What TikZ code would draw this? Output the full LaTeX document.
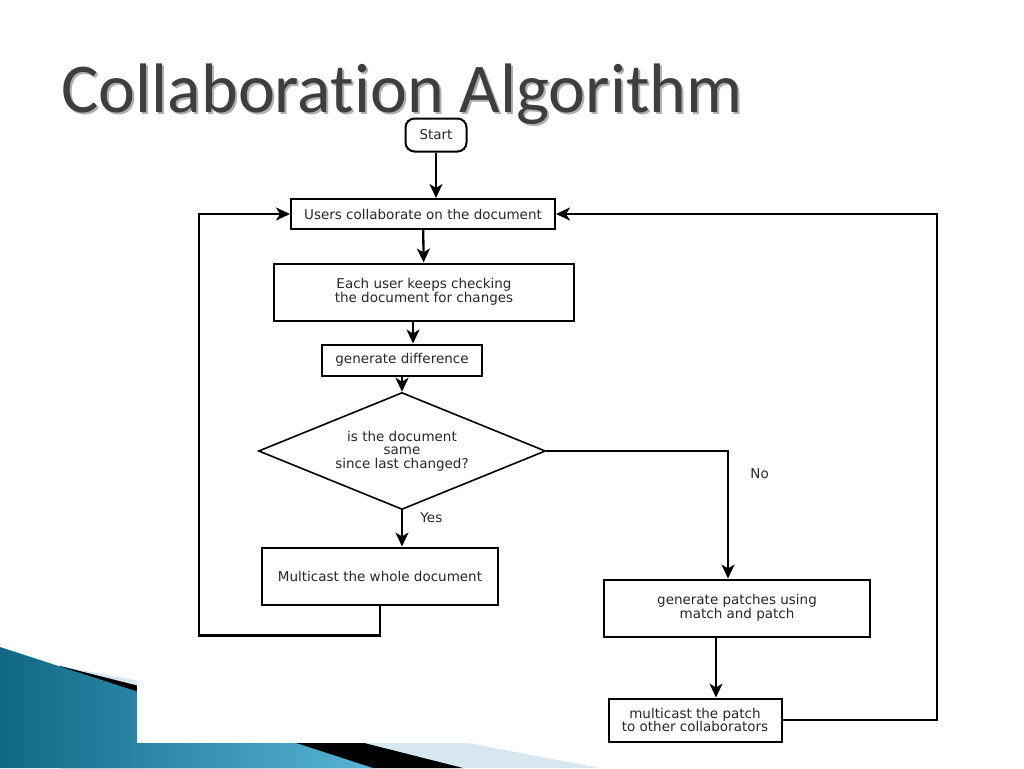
\documentclass[tikz,border=0pt]{standalone}
\usepackage{fontspec}
\usetikzlibrary{shapes.geometric,arrows.meta,positioning}
\newfontfamily\flowfont{DejaVu Sans}
\newfontfamily\titlefont[Ligatures=NoCommon]{Carlito}
\definecolor{titlegray}{RGB}{62,62,62}
\definecolor{shadowgray}{RGB}{175,175,175}
\definecolor{textgray}{RGB}{40,40,40}
\definecolor{tealdark}{RGB}{16,104,134}
\definecolor{teallight}{RGB}{88,180,212}
\definecolor{paleblue}{RGB}{214,231,240}

\begin{document}
\begin{tikzpicture}[x=1pt,y=-1pt,
  box/.style={draw,line width=2pt,fill=white,text=textgray,inner sep=2pt,align=center,
    font=\flowfont\fontsize{13.5}{13.5}\selectfont},
  startbox/.style={box,rounded corners=9pt,minimum width=61pt,minimum height=33pt},
  decision/.style={box,diamond,line width=1.6pt,minimum width=287pt,minimum height=117pt,aspect=2.45,inner sep=0pt},
  arr/.style={line width=2.3pt,-{Stealth[length=14pt,width=13pt,inset=4pt]}},
  answer/.style={font=\flowfont\fontsize{13.5}{13.5}\selectfont,text=textgray,anchor=west}]
\useasboundingbox (0,0) rectangle (1024,768);
% corner decoration
\fill [paleblue] (60,666) -- (600,768) -- (60,768) -- cycle;
\fill [black] (60,666) -- (463,768) -- (60,768) -- cycle;
\shade [left color=tealdark,right color=teallight] (0,647) -- (373,768) -- (0,768) -- cycle;
\fill [white] (137,118) rectangle (990,743);
% title
\node [anchor=base west,font=\titlefont\fontsize{70}{80}\selectfont,text=shadowgray] () at (60,114) {Collaboration Algorithm};
\node [anchor=base west,font=\titlefont\fontsize{70}{80}\selectfont,text=titlegray] (title) at (58,112) {Collaboration Algorithm};
% flowchart
\node [startbox] (start) at (436,135) {Start};
\node [box,minimum width=264pt,minimum height=30pt] (users) at (423,214) {Users collaborate on the document};
\node [box,minimum width=300pt,minimum height=57pt] (each) at (424,292) {Each user keeps checking\\the document for changes};
\node [box,minimum width=160pt,minimum height=31pt] (gendiff) at (402,360) {generate difference};
\node [decision] (same) at (402,451) {is the document\\same\\since last changed?};
\node [box,minimum width=236pt,minimum height=57pt] (whole) at (380,576) {Multicast the whole document};
\node [box,minimum width=266pt,minimum height=57pt] (patches) at (737,608) {generate patches using\\match and patch};
\node [box,minimum width=173pt,minimum height=43pt] (patch) at (695,720) {multicast the patch\\to other collaborators};
\coordinate (leftrail) at (199,0);
\coordinate (rightrail) at (937,0);

\draw [arr] (start.south) -- (start.south |- users.north);
\draw [arr] (users) -- (each);
\draw [arr] ([xshift=-11pt]each.south) -- ([xshift=11pt]gendiff.north);
\draw [arr] (gendiff) -- (same);
\draw [arr] (same.south) -- (same.south |- whole.north) node [answer,pos=0.2,xshift=14pt] {Yes};
\draw [arr] (same.east) -| node [answer,pos=0.59,xshift=18pt] {No} ([xshift=-9pt]patches.north);
\draw [arr] ([xshift=-21pt]patches.south) -- ([xshift=-21pt]patches.south |- patch.north);
\draw [arr] (patch.east) -| (rightrail |- users) -- (users.east);
\draw [arr] (whole.south) -- ++(0,30) -| (leftrail |- users) -- (users.west);
\end{tikzpicture}
\end{document}
